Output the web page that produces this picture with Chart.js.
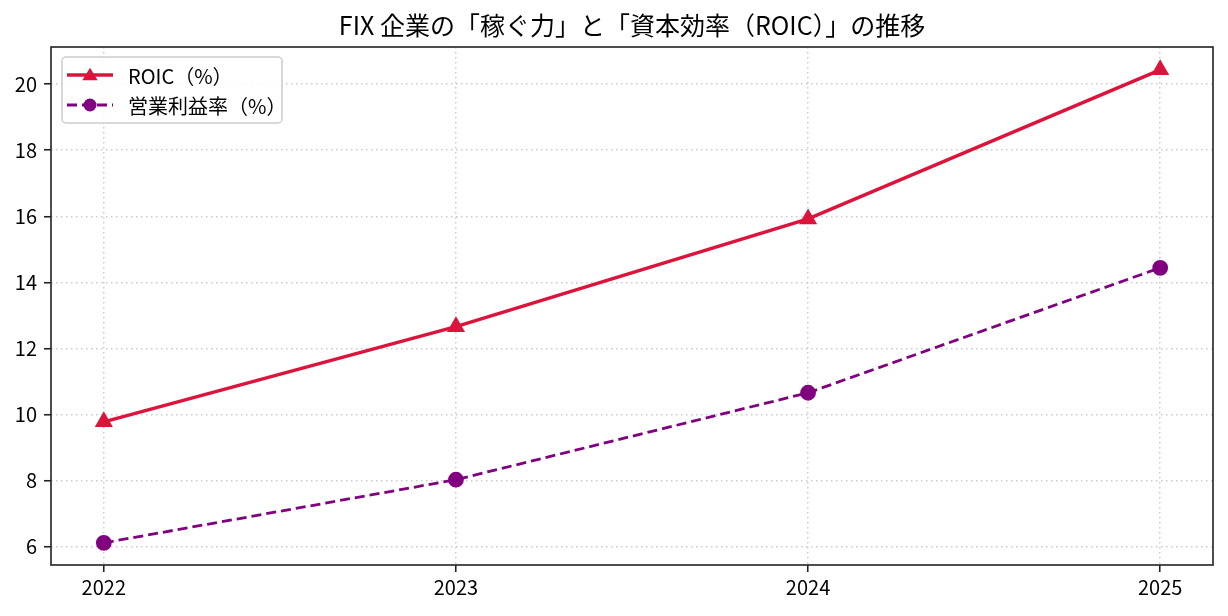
<!DOCTYPE html>
<html><head><meta charset="utf-8">
<script src="https://cdn.jsdelivr.net/npm/chart.js@4"></script>
<style>html,body{margin:0;padding:0;background:#fff}#wrap{width:1228px;height:616px}</style>
</head><body><div id="wrap"><canvas id="c" width="1228" height="616"></canvas></div>
<script>
const years = ['2022', '2023', '2024', '2025'];
const roic = [9.78, 12.66, 15.92, 20.43];
const opMargin = [6.12, 8.03, 10.66, 14.44];
const yTicks = [6, 8, 10, 12, 14, 16, 18, 20];
const titleText = 'FIX 企業の「稼ぐ力」と「資本効率（ROIC）」の推移';
const seriesLabels = ['ROIC（%）', '営業利益率（%）'];

const FAM = "'Liberation Sans Narrow', 'Noto Sans CJK JP', sans-serif";
const RED = '#dc143c', PURPLE = '#800080';

function drawMarker(ctx, style, x, y, r, color) {
  ctx.save();
  ctx.fillStyle = color;
  ctx.beginPath();
  if (style === 'triangle') {
    ctx.moveTo(x, y - r * 1.05);
    ctx.lineTo(x + r * 1.1, y + r * 0.75);
    ctx.lineTo(x - r * 1.1, y + r * 0.75);
    ctx.closePath();
  } else {
    ctx.arc(x, y, r, 0, Math.PI * 2);
  }
  ctx.fill();
  ctx.restore();
}

const overlay = {
  id: 'overlay',
  afterDraw(chart) {
    const ctx = chart.ctx, a = chart.chartArea;
    ctx.save();
    // frame
    ctx.strokeStyle = '#222';
    ctx.lineWidth = 1.6;
    ctx.strokeRect(a.left, a.top, a.right - a.left, a.bottom - a.top);
    // title
    ctx.fillStyle = '#000';
    ctx.font = "25px " + FAM;
    ctx.textAlign = 'center';
    ctx.textBaseline = 'middle';
    ctx.fillText(titleText, (a.left + a.right) / 2, 25);
    // legend
    const bx = 62, by = 57, bw = 220, bh = 66;
    ctx.beginPath();
    ctx.roundRect(bx, by, bw, bh, 4);
    ctx.fillStyle = 'rgba(255,255,255,0.85)';
    ctx.fill();
    ctx.strokeStyle = '#cccccc';
    ctx.lineWidth = 1.5;
    ctx.stroke();
    const ds = chart.data.datasets;
    const rows = [75, 105];
    ds.forEach((d, i) => {
      const y = rows[i];
      ctx.save();
      ctx.strokeStyle = d.borderColor;
      ctx.lineWidth = d.borderWidth;
      ctx.setLineDash(d.borderDash || []);
      ctx.beginPath();
      ctx.moveTo(67, y); ctx.lineTo(113, y);
      ctx.stroke();
      ctx.restore();
      drawMarker(ctx, d.pointStyle === 'triangle' ? 'triangle' : 'circle', 90, y, d.pointRadius, d.borderColor);
      ctx.fillStyle = '#000';
      ctx.font = "20px " + FAM;
      ctx.textAlign = 'left';
      ctx.textBaseline = 'middle';
      ctx.fillText(d.label, 128, y + 1);
    });
    ctx.restore();
  }
};

new Chart(document.getElementById('c'), {
  type: 'line',
  data: {
    datasets: [
      {
        label: seriesLabels[0],
        data: roic.map((v, i) => ({ x: i, y: v })),
        borderColor: RED, backgroundColor: RED,
        borderWidth: 3.5, pointStyle: 'triangle', pointRadius: 7,
        pointHoverRadius: 7, tension: 0
      },
      {
        label: seriesLabels[1],
        data: opMargin.map((v, i) => ({ x: i, y: v })),
        borderColor: PURPLE, backgroundColor: PURPLE,
        borderWidth: 2.8, borderDash: [10, 5], pointStyle: 'circle', pointRadius: 6.5,
        pointHoverRadius: 6.5, tension: 0
      }
    ]
  },
  options: {
    responsive: false,
    devicePixelRatio: 1,
    animation: false,
    layout: { padding: { top: 47, right: 15, left: 0, bottom: 0 } },
    plugins: { legend: { display: false }, title: { display: false }, tooltip: { enabled: false } },
    scales: {
      x: {
        type: 'linear', min: -0.15, max: 3.15,
        afterBuildTicks: s => { s.ticks = years.map((_, i) => ({ value: i })); },
        afterFit: s => { s.height = 51; },
        ticks: { callback: v => years[v], color: '#000', font: { family: FAM, size: 20 }, padding: 3, maxRotation: 0 },
        grid: { color: 'rgba(190,190,190,0.8)', lineWidth: 1.5, tickColor: '#222', tickLength: 7, tickWidth: 1.6, tickBorderDash: [] },
        border: { display: false, dash: [1.5, 3.5] }
      },
      y: {
        type: 'linear', min: 5.45, max: 21.12,
        afterBuildTicks: s => { s.ticks = yTicks.map(v => ({ value: v })); },
        afterFit: s => { s.width = 51; },
        ticks: { color: '#000', font: { family: FAM, size: 20 }, padding: 7 },
        grid: { color: 'rgba(190,190,190,0.8)', lineWidth: 1.5, tickColor: '#222', tickLength: 7, tickWidth: 1.6, tickBorderDash: [] },
        border: { display: false, dash: [1.5, 3.5] }
      }
    }
  },
  plugins: [overlay]
});
</script></body></html>
